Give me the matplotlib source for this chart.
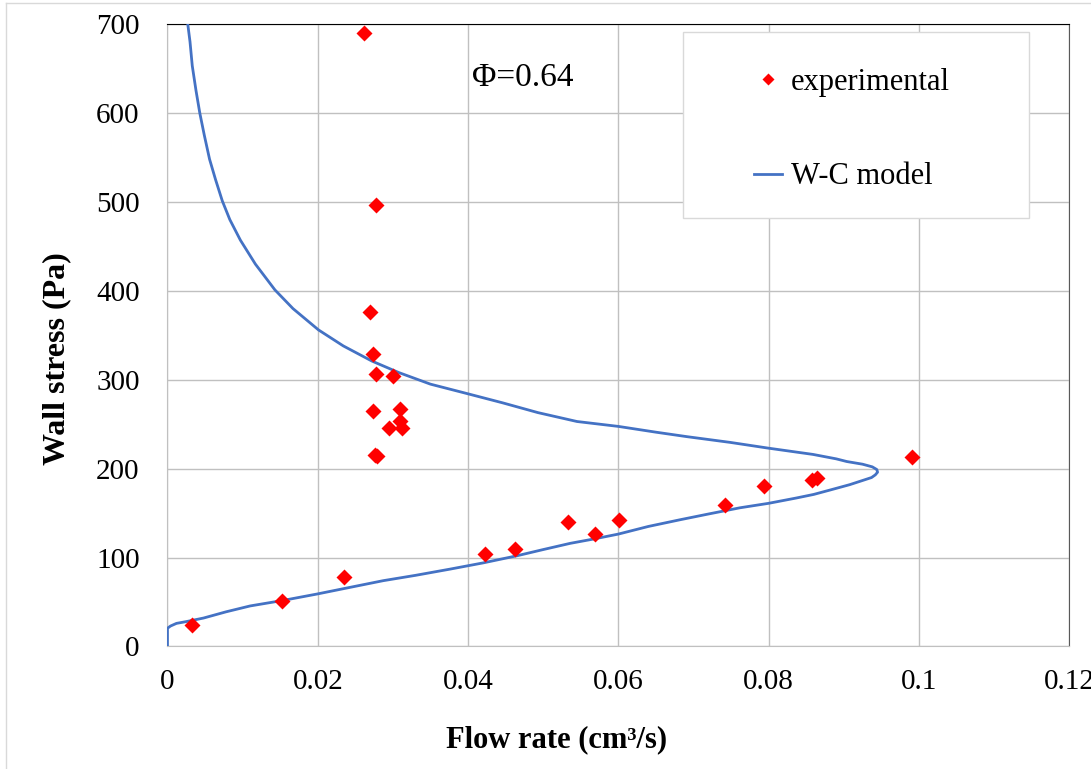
import matplotlib
matplotlib.use("Agg")
import matplotlib.pyplot as plt
from matplotlib.lines import Line2D
from matplotlib.patches import Rectangle

plt.rcParams['font.family'] = ['Liberation Serif', 'DejaVu Serif']

# experimental points (flow rate cm3/s, wall stress Pa)
exp_q = [0.0033, 0.0153, 0.0235, 0.0422, 0.0462, 0.0533, 0.0569, 0.0601,
         0.0742, 0.0794, 0.0858, 0.0864, 0.0991,
         0.0262, 0.0277, 0.0270, 0.0273, 0.0277, 0.0300, 0.0273, 0.0309,
         0.0310, 0.0295, 0.0312, 0.0276, 0.0279]
exp_tau = [24, 51, 78, 104, 110, 140, 127, 142,
           159, 181, 187, 189, 213,
           690, 496, 376, 329, 306, 304, 265, 267,
           254, 246, 246, 215, 214]

wc_q = [0.0027, 0.0030, 0.0033, 0.0038, 0.0043, 0.0049, 0.0056, 0.0064,
        0.0073, 0.0083, 0.0097, 0.0117, 0.0143, 0.0167, 0.0201, 0.0234,
        0.0272, 0.0308, 0.0350, 0.0396, 0.0446, 0.0493, 0.0545, 0.0600,
        0.0650, 0.0691, 0.0749, 0.0800, 0.0859, 0.0890, 0.0904, 0.0925,
        0.0938, 0.0944, 0.0945, 0.0942, 0.0937, 0.0928, 0.0908, 0.0882,
        0.0860, 0.0837, 0.0800, 0.0762, 0.0720, 0.0682, 0.0640, 0.0600,
        0.0568, 0.0536, 0.0500, 0.0465, 0.0420, 0.0376, 0.0330, 0.0287,
        0.0240, 0.0199, 0.0155, 0.0110, 0.0078, 0.0048, 0.0025, 0.0012,
        0.0004, 0.0, 0.0]
wc_tau = [700, 680, 653, 625, 600, 575, 548, 525,
          501, 480, 457, 430, 401, 380, 356, 338,
          321, 308, 295, 285, 274, 263, 253, 247.5,
          241, 236, 229.5, 223, 216, 211, 208, 205,
          202, 199, 196, 193, 190, 187.5, 182, 176,
          171, 167, 161, 156, 149, 142.5, 135, 126.4,
          121, 116, 109, 102, 94, 87, 80, 74,
          66, 59, 52, 45.6, 39, 32, 28, 26,
          23, 20.5, 0]

fig = plt.figure(figsize=(10.91, 7.69), dpi=100)
ax = fig.add_axes([0.1535, 0.1593, 0.8265, 0.8095])

ax.plot(wc_q, wc_tau, color='#4472c4', lw=2, zorder=3)
ax.plot(exp_q, exp_tau, 'D', color='#ff0000', ms=8, mec='none', zorder=4)

ax.set_xlim(0, 0.12)
ax.set_ylim(0, 700)
ax.set_xticks([0, 0.02, 0.04, 0.06, 0.08, 0.1, 0.12])
ax.set_xticklabels(['0', '0.02', '0.04', '0.06', '0.08', '0.1', '0.12'])
ax.set_yticks(range(0, 701, 100))
ax.tick_params(length=0, labelsize=21)
ax.tick_params(axis='y', pad=20)
ax.tick_params(axis='x', pad=16)
ax.grid(color='#c0c0c0', lw=1)
ax.set_axisbelow(True)

ax.spines['top'].set_color('black')
ax.spines['right'].set_color('#595959')
ax.spines['left'].set_color('#c0c0c0')
ax.spines['bottom'].set_color('#c0c0c0')

ax.set_xlabel('Flow rate (cm³/s)', fontsize=22, fontweight='bold')
ax.set_ylabel('Wall stress (Pa)', fontsize=23, fontweight='bold')
ax.xaxis.set_label_coords(0.431, -0.150)
ax.xaxis.label.set_va('center')
ax.yaxis.set_label_coords(-0.1226, 0.463)
ax.yaxis.label.set_va('center')

ax.text(0.338, 0.913, 'Φ=0.64', transform=ax.transAxes, fontsize=24,
        ha='left', va='center')

# legend box
box = Rectangle((0.572, 0.688), 0.383, 0.299, transform=ax.transAxes,
                facecolor='white', edgecolor='#d9d9d9', lw=1, zorder=5)
ax.add_patch(box)
handles = [Line2D([], [], ls='none', marker='D', color='#ff0000', ms=6.5, mec='none'),
           Line2D([], [], color='#4472c4', lw=2)]
leg = ax.legend(handles, ['experimental', 'W-C model'], loc='upper left',
                bbox_to_anchor=(0.651, 0.930), frameon=False, fontsize=22,
                borderpad=0, borderaxespad=0, handlelength=0.9,
                handletextpad=0.3, labelspacing=2.15)
leg.set_zorder(6)

# outer chart border
fig.add_artist(Line2D([6/1091, 6/1091], [0, 1 - 3/769], color='#d9d9d9', lw=1))
fig.add_artist(Line2D([6/1091, 1], [1 - 3/769, 1 - 3/769], color='#d9d9d9', lw=1))

fig.savefig('out.png', dpi=100)
